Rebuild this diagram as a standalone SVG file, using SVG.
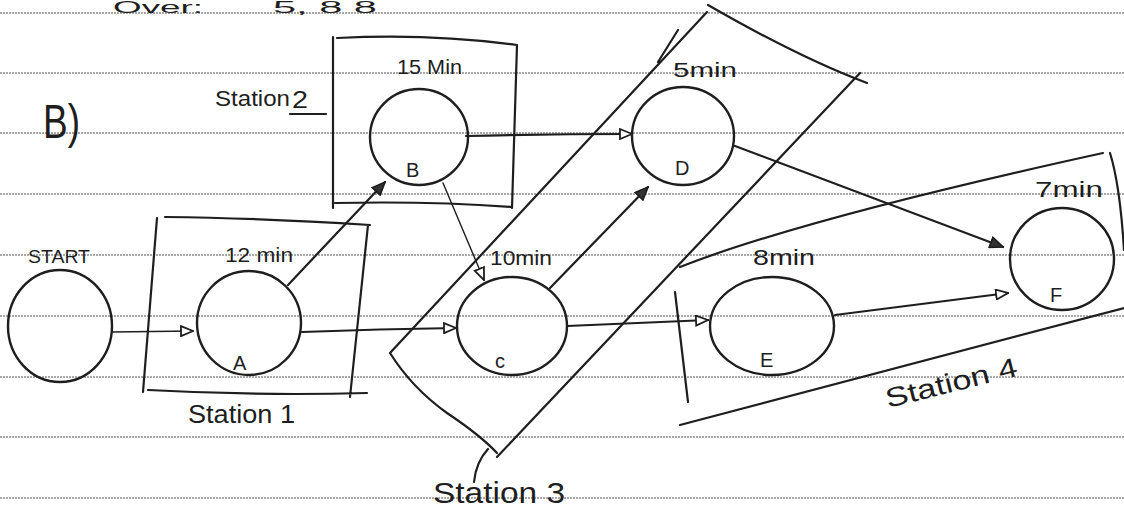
<svg xmlns="http://www.w3.org/2000/svg" width="1124" height="511" viewBox="0 0 1124 511">
<style>
.rule{stroke:#8a8a8a;stroke-width:1.3;stroke-dasharray:2 1;fill:none}
.node{fill:none;stroke:#1e1e1e;stroke-width:2.4}
.box{fill:none;stroke:#1e1e1e;stroke-width:2.2;stroke-linecap:round;stroke-linejoin:round}
.edge{fill:none;stroke:#1e1e1e;stroke-width:2.2;stroke-linecap:round}
.thin{stroke-width:1.4}
.t{font-family:"Liberation Sans",Arial,sans-serif;fill:#1e1e1e}
</style>
<defs>
<marker id="open" viewBox="0 0 14 12" refX="13" refY="6" markerWidth="14" markerHeight="12" markerUnits="userSpaceOnUse" orient="auto">
<path d="M1,1 L13,6 L1,11 Z" fill="#fff" stroke="#1e1e1e" stroke-width="1.8"/>
</marker>
<marker id="solid" viewBox="0 0 14 12" refX="13" refY="6" markerWidth="15" markerHeight="13" markerUnits="userSpaceOnUse" orient="auto">
<path d="M1,1 L13,6 L1,11 Z" fill="#333" stroke="#1e1e1e" stroke-width="1.6"/>
</marker>
</defs>
<rect width="1124" height="511" fill="#fff"/>
<g id="paper">
<line class="rule" x1="0" y1="13" x2="1124" y2="13"/>
<line class="rule" x1="0" y1="73" x2="1124" y2="73"/>
<line class="rule" x1="0" y1="133" x2="1124" y2="133"/>
<line class="rule" x1="0" y1="194" x2="1124" y2="194"/>
<line class="rule" x1="0" y1="255" x2="1124" y2="255"/>
<line class="rule" x1="0" y1="316" x2="1124" y2="316"/>
<line class="rule" x1="0" y1="377" x2="1124" y2="377"/>
<line class="rule" x1="0" y1="437" x2="1124" y2="437"/>
<line class="rule" x1="0" y1="498" x2="1124" y2="498"/>
</g>
<g id="heading">
<text class="t" x="113" y="13" font-size="17" textLength="90" lengthAdjust="spacingAndGlyphs">Over:</text>
<text class="t" x="273" y="13" font-size="17" textLength="104" lengthAdjust="spacingAndGlyphs">5, 8 8</text>
<text class="t" x="43" y="138" font-size="48" textLength="37" lengthAdjust="spacingAndGlyphs">B)</text>
</g>
<g id="stations">
<g id="station1">
<path class="box" d="M157,218 L143,392 M165,217 Q260,218 370,225 M368,225 L350,397 M148,390 Q260,396 367,393"/>
<text class="t" x="188" y="423" font-size="25" textLength="107" lengthAdjust="spacingAndGlyphs">Station 1</text>
</g>
<g id="station2">
<path class="box" d="M333,37 L333,208 M337,38 Q430,33 517,45 M517,45 L512,208 M335,203 Q430,201 512,207"/>
<text class="t" x="215" y="106" font-size="22" textLength="75" lengthAdjust="spacingAndGlyphs">Station</text>
<text class="t" x="292" y="108" font-size="24" textLength="16" lengthAdjust="spacingAndGlyphs">2</text>
<line class="box" x1="290" y1="114" x2="326" y2="114"/>
</g>
<g id="station3">
<path class="box" d="M390,353 L707,12 M658,62 L678,30 M708,5 Q800,58 867,83 M860,73 L497,457 M390,353 Q412,388 447,413 Q480,435 497,453 M488,449 Q476,462 474,482"/>
<text class="t" x="433" y="503" font-size="30" textLength="132" lengthAdjust="spacingAndGlyphs">Station 3</text>
</g>
<g id="station4">
<path class="box" d="M680,267 Q802,219 1103,153 M1110,153 Q1120,185 1124,250 M680,425 L1124,308 M675,292 L688,402"/>
<text class="t" x="888" y="408" font-size="27" textLength="135" lengthAdjust="spacingAndGlyphs" transform="rotate(-14 888 408)">Station 4</text>
</g>
</g>
<g id="connectors">
<line class="edge thin" x1="112" y1="332" x2="193" y2="331" marker-end="url(#open)"/>
<path class="edge" d="M302,332 Q380,329 456,328" marker-end="url(#open)"/>
<line class="edge" x1="288" y1="285" x2="385" y2="182" marker-end="url(#solid)"/>
<path class="edge" d="M466,136 Q550,134 632,134" marker-end="url(#open)" stroke-width="3"/>
<line class="edge thin" x1="443" y1="183" x2="484" y2="280" marker-end="url(#open)"/>
<line class="edge" x1="550" y1="288" x2="648" y2="187" marker-end="url(#solid)"/>
<path class="edge" d="M567,326 Q640,323 708,320" marker-end="url(#open)"/>
<line class="edge" x1="735" y1="146" x2="1003" y2="247" marker-end="url(#solid)"/>
<line class="edge" x1="835" y1="315" x2="1008" y2="293" marker-end="url(#open)"/>
</g>
<g id="node-start">
<ellipse class="node" cx="60" cy="326" rx="52" ry="56"/>
<text class="t" x="28" y="263" font-size="19" textLength="62" lengthAdjust="spacingAndGlyphs">START</text>
</g>
<g id="node-A">
<ellipse class="node" cx="249" cy="323" rx="52" ry="52"/>
<text class="t" x="225" y="262" font-size="20" textLength="68" lengthAdjust="spacingAndGlyphs">12 min</text>
<text class="t" x="233" y="370" font-size="20">A</text>
</g>
<g id="node-B">
<ellipse class="node" cx="419" cy="137" rx="49" ry="48"/>
<text class="t" x="397" y="74" font-size="20" textLength="65" lengthAdjust="spacingAndGlyphs">15 Min</text>
<text class="t" x="406" y="177" font-size="20">B</text>
</g>
<g id="node-C">
<ellipse class="node" cx="512" cy="326" rx="55" ry="49"/>
<text class="t" x="490" y="265" font-size="20" textLength="62" lengthAdjust="spacingAndGlyphs">10min</text>
<text class="t" x="495" y="368" font-size="20">c</text>
</g>
<g id="node-D">
<ellipse class="node" cx="683" cy="136" rx="51" ry="49"/>
<text class="t" x="673" y="77" font-size="20" textLength="64" lengthAdjust="spacingAndGlyphs">5min</text>
<text class="t" x="675" y="175" font-size="20">D</text>
</g>
<g id="node-E">
<ellipse class="node" cx="772" cy="326" rx="62" ry="49"/>
<text class="t" x="753" y="265" font-size="22" textLength="62" lengthAdjust="spacingAndGlyphs">8min</text>
<text class="t" x="760" y="367" font-size="20">E</text>
</g>
<g id="node-F">
<ellipse class="node" cx="1062" cy="259" rx="52" ry="51"/>
<text class="t" x="1035" y="197" font-size="22" textLength="68" lengthAdjust="spacingAndGlyphs">7min</text>
<text class="t" x="1050" y="302" font-size="20">F</text>
</g>
</svg>
